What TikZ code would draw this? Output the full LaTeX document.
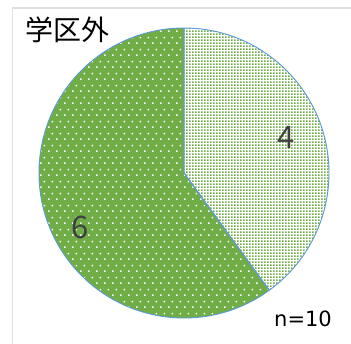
\documentclass[tikz,border=0pt]{standalone}
\usepackage{fontspec}
\setmainfont{Noto Sans CJK JP}
\newfontfamily\latinfont{DejaVu Sans}
\usetikzlibrary{patterns.meta}
\definecolor{piegreen}{HTML}{70AD47}
\definecolor{pieline}{HTML}{5B9BD5}
\definecolor{labelgray}{HTML}{404040}
\tikzdeclarepattern{
  name=sparsedots, type=uncolored,
  bottom left={(0pt,0pt)}, top right={(8pt,12pt)},
  tile size={(8pt,12pt)},
  code={
    \pgfpathrectangle{\pgfpoint{0pt}{0pt}}{\pgfpoint{1.7pt}{1.7pt}}
    \pgfpathrectangle{\pgfpoint{4pt}{6pt}}{\pgfpoint{1.7pt}{1.7pt}}
    \pgfusepath{fill}
  }
}
\tikzdeclarepattern{
  name=densedots, type=uncolored,
  bottom left={(0pt,0pt)}, top right={(3.4pt,3.4pt)},
  tile size={(3.4pt,3.4pt)},
  code={
    \pgfpathrectangle{\pgfpoint{0pt}{0pt}}{\pgfpoint{1.9pt}{1.9pt}}
    \pgfusepath{fill}
  }
}
\tikzset{
  slice/.style={draw=pieline, line width=0.9pt, line join=round},
  value/.style={text=labelgray, font=\fontsize{31}{31}\selectfont, inner sep=0pt},
}

\begin{document}
\begin{tikzpicture}[x=1pt, y=1pt]
\useasboundingbox (0,0) rectangle (351,344);
\fill[white] (0,0) rectangle (351,344);
% chart frame
\draw[gray!25, line width=1.5pt] (12.5,0) |- (351,336);

\coordinate (ctr) at (184,171);

% 4 of 10
\fill[white] (ctr) -- ++(90:145) arc[start angle=90, end angle=-54, radius=145] -- cycle;
\fill[pattern={densedots}, pattern color=piegreen] (ctr) -- ++(90:145) arc[start angle=90, end angle=-54, radius=145] -- cycle;
% 6 of 10
\fill[piegreen] (ctr) -- ++(-54:145) arc[start angle=-54, end angle=-270, radius=145] -- cycle;
\fill[pattern={sparsedots}, pattern color=white] (ctr) -- ++(-54:145) arc[start angle=-54, end angle=-270, radius=145] -- cycle;

\draw[slice] (ctr) -- ++(90:145) arc[start angle=90, end angle=-54, radius=145] -- cycle;
\draw[slice] (ctr) -- ++(-54:145) arc[start angle=-54, end angle=-270, radius=145] -- cycle;

\node[value] (four) at (286,207) {4};
\node[value] (six) at (80,117) {6};

\node[font=\fontsize{28}{28}\selectfont, inner sep=0pt] (title) at (67,314) {学区外};
\node[font=\latinfont\fontsize{21}{21}\selectfont, inner sep=0pt] (count) at (303,25) {n=10};
\end{tikzpicture}
\end{document}
